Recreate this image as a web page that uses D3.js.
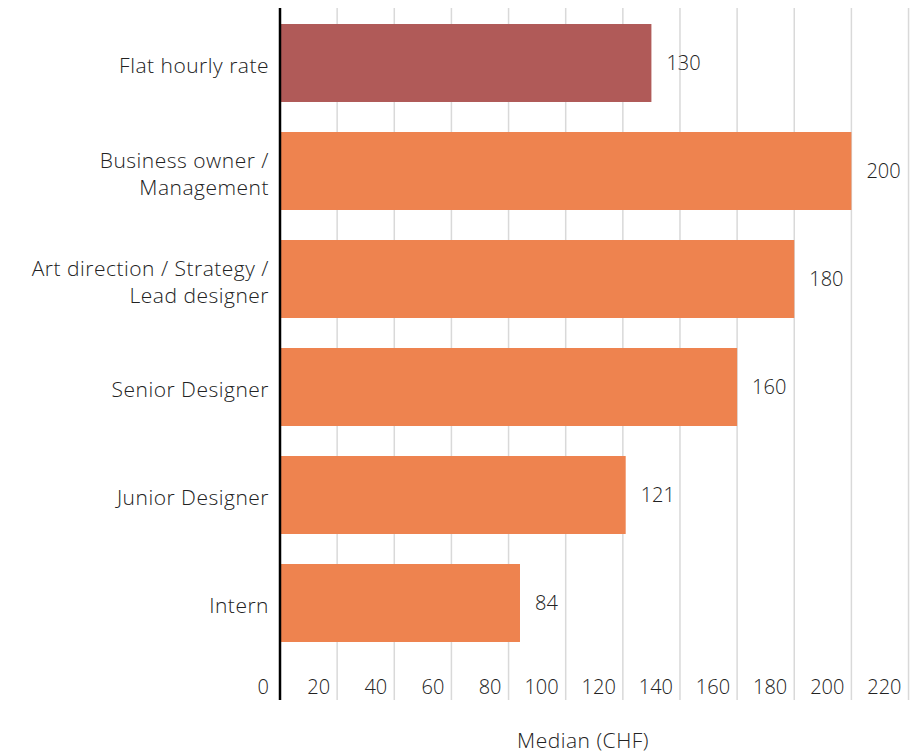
<!DOCTYPE html>
<html>
<head>
<meta charset="utf-8">
<script src="https://cdn.jsdelivr.net/npm/d3@7"></script>
<style>
body { margin: 0; background: #fff; }
text { font-family: "Open Sans", Lato, sans-serif; font-weight: 300; fill: #222; }
</style>
</head>
<body>
<div id="chart"></div>
<script>
// categories top to bottom, with their median values
const roles = [
  ["Flat hourly rate"],
  ["Business owner /", "Management"],
  ["Art direction / Strategy /", "Lead designer"],
  ["Senior Designer"],
  ["Junior Designer"],
  ["Intern"]
];
const medians = [130, 200, 180, 160, 121, 84];
const barColors = ["#b05a58", "#ee834f", "#ee834f", "#ee834f", "#ee834f", "#ee834f"];
const tickValues = [0, 20, 40, 60, 80, 100, 120, 140, 160, 180, 200, 220];

const w = 917, h = 753;
const left = 280;

const svg = d3.select("#chart").append("svg")
  .attr("width", w).attr("height", h);

const x = d3.scaleLinear().domain([0, 220]).range([left, left + 220 * 2.857]);
const y = d3.scaleBand().domain(d3.range(roles.length))
  .range([9, 657]).paddingInner(0.278).paddingOuter(0.139);

// grid lines
svg.append("g").selectAll("line")
  .data(tickValues.slice(1))
  .enter().append("line")
  .attr("x1", d => x(d)).attr("x2", d => x(d))
  .attr("y1", 8).attr("y2", 700)
  .attr("stroke", "#d9d9d9").attr("stroke-width", 1.5);

// bars
svg.append("g").selectAll("rect")
  .data(medians)
  .enter().append("rect")
  .attr("x", x(0))
  .attr("y", (d, i) => y(i))
  .attr("width", d => x(d) - x(0))
  .attr("height", y.bandwidth())
  .attr("fill", (d, i) => barColors[i]);

// value labels
svg.append("g").selectAll("text")
  .data(medians)
  .enter().append("text")
  .attr("x", d => x(d) + 15)
  .attr("y", (d, i) => y(i) + y.bandwidth() / 2 + 7)
  .attr("font-size", 20)
  .text(d => d);

// category labels
const cat = svg.append("g").selectAll("text")
  .data(roles)
  .enter().append("text")
  .attr("text-anchor", "end")
  .attr("font-size", 21)
  .attr("letter-spacing", 0.5)
  .attr("y", (d, i) => y(i) + y.bandwidth() / 2 + 10 - (d.length - 1) * 13.5);
cat.selectAll("tspan")
  .data(d => d)
  .enter().append("tspan")
  .attr("x", 269)
  .attr("dy", (d, i) => i ? 27 : 0)
  .text(d => d);

// x tick labels, right-aligned against their grid line
svg.append("g").selectAll("text")
  .data(tickValues)
  .enter().append("text")
  .attr("text-anchor", "end")
  .attr("x", d => x(d) - (d === 0 ? 11 : 7))
  .attr("y", 694)
  .attr("font-size", 20)
  .text(d => d);

// vertical axis line
svg.append("line")
  .attr("x1", x(0)).attr("x2", x(0))
  .attr("y1", 8).attr("y2", 700)
  .attr("stroke", "#000").attr("stroke-width", 2.5);

svg.append("text")
  .attr("x", 583).attr("y", 748)
  .attr("text-anchor", "middle")
  .attr("font-size", 21)
  .attr("letter-spacing", 0.5)
  .text("Median (CHF)");
</script>
</body>
</html>
